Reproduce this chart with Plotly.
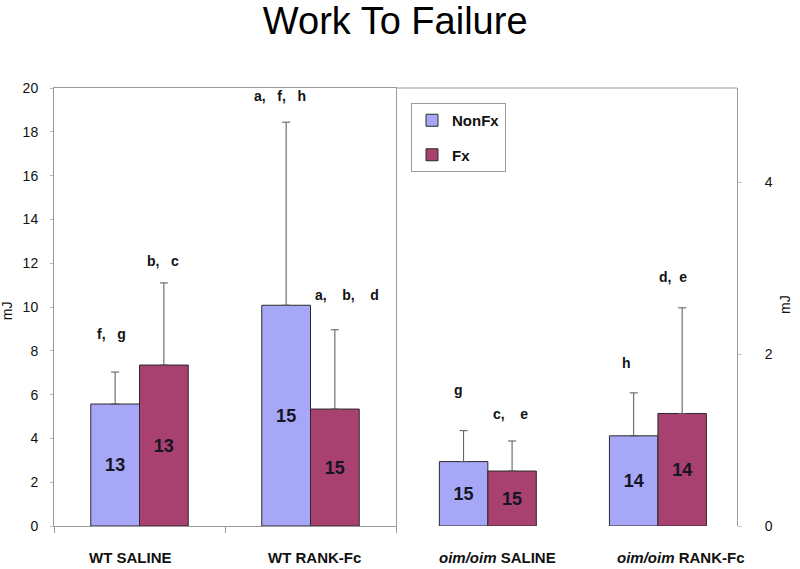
import plotly.graph_objects as go

# ---------------- data ----------------
groups_wt = ["WT SALINE", "WT RANK-Fc"]
groups_oim = ["<i>oim/oim</i> SALINE", "<i>oim/oim</i> RANK-Fc"]

nonfx_wt = [5.57, 10.08]
nonfx_wt_err = [1.46, 8.36]
fx_wt = [7.35, 5.34]
fx_wt_err = [3.75, 3.62]

nonfx_oim = [0.75, 1.05]
nonfx_oim_err = [0.36, 0.50]
fx_oim = [0.64, 1.31]
fx_oim_err = [0.35, 1.23]

n_nonfx_wt = [13, 15]
n_fx_wt = [13, 15]
n_nonfx_oim = [15, 14]
n_fx_oim = [15, 14]

sig_nonfx_wt = ["f,   g", "a,   f,   h"]
sig_fx_wt = ["b,   c", "a,    b,    d"]
sig_nonfx_oim = ["g", "h"]
sig_fx_oim = ["c,    e", "d,  e"]

left_ticks = list(range(0, 21, 2))
right_ticks = [0, 2, 4]

# ---------------- style ----------------
FONT = "Liberation Sans, Arial, sans-serif"
C_NON = "#A7A7F7"
C_FX = "#A8416F"
EDGE = "#2a2a2a"
FRAME = "#9a9a9a"
ERR = "#555555"

fig = go.Figure()


def add_bars(cats, vals, errs, ns, color, name, xa, ya, show):
    fig.add_trace(go.Bar(
        x=cats, y=vals, name=name, legendgroup=name, showlegend=show,
        marker=dict(color=color, line=dict(color=EDGE, width=1)),
        error_y=dict(type="data", array=errs, arrayminus=[0] * len(errs),
                     symmetric=False, color=ERR, thickness=1, width=4),
        text=[str(n) for n in ns], textposition="inside",
        insidetextanchor="middle", textangle=0,
        textfont=dict(family=FONT, size=18, color="#151525", weight="bold"),
        xaxis=xa, yaxis=ya, cliponaxis=False,
    ))


add_bars(groups_wt, nonfx_wt, nonfx_wt_err, n_nonfx_wt, C_NON, "NonFx", "x", "y", True)
add_bars(groups_wt, fx_wt, fx_wt_err, n_fx_wt, C_FX, "Fx", "x", "y", True)
add_bars(groups_oim, nonfx_oim, nonfx_oim_err, n_nonfx_oim, C_NON, "NonFx", "x2", "y2", False)
add_bars(groups_oim, fx_oim, fx_oim_err, n_fx_oim, C_FX, "Fx", "x2", "y2", False)

# significance letters above the error bars
annotations = []
bar_off = 0.1425
sets = [
    (sig_nonfx_wt, nonfx_wt, nonfx_wt_err, -bar_off, "x", "y", [-4, -6], [38, 26]),
    (sig_fx_wt, fx_wt, fx_wt_err, bar_off, "x", "y", [-1, 12], [22, 35]),
    (sig_nonfx_oim, nonfx_oim, nonfx_oim_err, -bar_off, "x2", "y2", [-5, -7], [41, 30]),
    (sig_fx_oim, fx_oim, fx_oim_err, bar_off, "x2", "y2", [-2, -9], [27, 31]),
]
for labels, vals, errs, off, xr, yr, xs, ys in sets:
    for i, lab in enumerate(labels):
        annotations.append(dict(
            x=i + off, y=vals[i] + errs[i], xref=xr, yref=yr,
            text="<b>" + lab.replace(" ", "\u00a0") + "</b>",
            showarrow=False, yanchor="middle", xanchor="center",
            xshift=xs[i], yshift=ys[i],
            font=dict(family=FONT, size=14, color="#111"),
        ))

# category labels under each group
cat_sets = [(groups_wt, "x", "y", [-9, 4]), (groups_oim, "x2", "y2", [10, 23])]
for cats, xr, yr, xs in cat_sets:
    for i, c in enumerate(cats):
        annotations.append(dict(
            x=c, y=0, xref=xr, yref=yr, text="<b>" + c + "</b>",
            showarrow=False, xanchor="center", yanchor="middle",
            xshift=xs[i], yshift=-31,
            font=dict(family=FONT, size=15, color="#111"),
        ))

annotations.append(dict(x=7 / 800, y=0.453, xref="paper", yref="paper", text="mJ",
                        textangle=-90, showarrow=False, xanchor="center", yanchor="middle",
                        font=dict(family=FONT, size=14, color="#111")))
annotations.append(dict(x=785 / 800, y=0.464, xref="paper", yref="paper", text="mJ",
                        textangle=-90, showarrow=False, xanchor="center", yanchor="middle",
                        font=dict(family=FONT, size=14, color="#111")))

Y_DOM = [1 - 526 / 569, 1 - 88 / 569]

fig.update_layout(
    width=800, height=569,
    margin=dict(l=0, r=0, t=0, b=0, autoexpand=False),
    paper_bgcolor="white", plot_bgcolor="white",
    barmode="group", bargap=0.43, bargroupgap=0,
    font=dict(family=FONT, color="#111"),
    title=dict(text="Work To Failure", x=0.494, xanchor="center",
               y=1 - 21 / 569, yanchor="middle", yref="container",
               font=dict(family=FONT, size=38, color="#000")),
    legend=dict(x=411 / 800, y=1 - 103 / 569, xanchor="left", yanchor="top",
                bgcolor="white", bordercolor=FRAME, borderwidth=1,
                font=dict(family=FONT, size=15, color="#111", weight="bold"),
                tracegroupgap=12, traceorder="grouped"),
    xaxis=dict(domain=[54 / 800, 396 / 800], range=[-0.5, 1.5],
               showline=True, mirror=True, linecolor=FRAME, linewidth=1,
               ticks="outside", tickson="boundaries", ticklen=6, tickcolor=FRAME,
               showticklabels=False, showgrid=False, zeroline=False),
    yaxis=dict(domain=Y_DOM, range=[0, 20], tickvals=left_ticks,
               showline=True, mirror=True, linecolor=FRAME, linewidth=1,
               ticks="outside", ticklen=3, tickcolor="#bbbbbb",
               ticklabelstandoff=9, showgrid=False, zeroline=False,
               tickfont=dict(family=FONT, size=14, color="#111")),
    xaxis2=dict(domain=[396 / 800, 737 / 800], range=[-0.54, 1.465],
                showline=False, ticks="", showgrid=False, zeroline=False,
                showticklabels=False, anchor="y2"),
    yaxis2=dict(domain=Y_DOM, range=[0, 5.1], tickvals=right_ticks, side="right",
                anchor="x2", showline=True, linecolor=FRAME, linewidth=1,
                ticks="outside", ticklen=4, tickcolor="#cccccc",
                ticklabelstandoff=20, showgrid=False, zeroline=False,
                tickfont=dict(family=FONT, size=14, color="#111")),
    annotations=annotations,
    shapes=[dict(type="line", xref="x2 domain", yref="y2 domain",
                 x0=0, x1=1, y0=1, y1=1, line=dict(color=FRAME, width=1))],
)

fig.write_html("out.html", config={"displayModeBar": False},
               post_script="document.body.style.margin='0';document.body.style.overflow='hidden';")
